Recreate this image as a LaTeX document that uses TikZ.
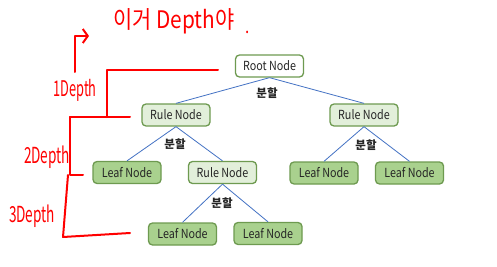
\documentclass[tikz,border=0pt]{standalone}
\usepackage{fontspec}
\usetikzlibrary{arrows.meta}
\newfontfamily\kfont{Noto Sans CJK KR}
\newfontfamily\nfont[FakeStretch=0.86]{Noto Sans CJK KR}
\newfontfamily\hfont[FakeStretch=0.8]{Noto Sans CJK KR}
\definecolor{edgegreen}{HTML}{6E9A50}
\definecolor{rulefill}{HTML}{E2EFDA}
\definecolor{leaffill}{HTML}{A9D18E}
\definecolor{splitblue}{HTML}{4472C4}
\definecolor{pen}{HTML}{FF0000}
\tikzset{
  treebox/.style={draw=edgegreen, line width=1.3pt, rounded corners=4pt,
    minimum width=68pt, minimum height=22pt, inner sep=0pt,
    font=\nfont\fontsize{12.5}{13}\selectfont, text=black!85},
  rootbox/.style={treebox, fill=white},
  rulebox/.style={treebox, fill=rulefill},
  leafbox/.style={treebox, fill=leaffill},
  split/.style={draw=splitblue, line width=0.8pt},
  splitlabel/.style={font=\kfont\bfseries\fontsize{11.5}{12}\selectfont, text=black!85, inner sep=0pt},
  redpen/.style={draw=pen, line width=2pt, line join=round, line cap=round},
  note/.style={text=pen, inner sep=0pt, font=\hfont\fontsize{#1}{#1}\selectfont},
}
\newcommand{\tallnote}[3]{\scalebox{#1}[#2]{#3}}
\begin{document}
\begin{tikzpicture}[x=1pt,y=-1pt]
\useasboundingbox[fill=white] (0,0) rectangle (497,267);

% tree nodes
\node[rootbox] (root) at (269.5,66) {Root Node};
\node[rulebox] (ruleL) at (176,115) {Rule Node};
\node[rulebox] (ruleR) at (364,115) {Rule Node};
\node[leafbox] (leafA) at (127,172.5) {Leaf Node};
\node[rulebox] (ruleM) at (222.5,172.5) {Rule Node};
\node[leafbox] (leafB) at (324,173) {Leaf Node};
\node[leafbox] (leafC) at (409.5,173) {Leaf Node};
\node[leafbox] (leafD) at (182.5,234) {Leaf Node};
\node[leafbox] (leafE) at (268,233.5) {Leaf Node};

% splits
\draw[split] (root.south) -- (ruleL.north);
\draw[split] (root.south) -- (ruleR.north);
\draw[split] (ruleL.south) -- (leafA.north);
\draw[split] (ruleL.south) -- (ruleM.north);
\draw[split] (ruleR.south) -- (leafB.north);
\draw[split] (ruleR.south) -- (leafC.north);
\draw[split] (ruleM.south) -- (leafD.north);
\draw[split] (ruleM.south) -- (leafE.north);

\node[splitlabel] (s1) at (267,93) {분할};
\node[splitlabel] (s2) at (175,144) {분할};
\node[splitlabel] (s3) at (366,145) {분할};
\node[splitlabel] (s4) at (222,203) {분할};

% hand-drawn depth notes
\node[note=21] (title) at (174,21) {\tallnote{1.24}{1.15}{이거 Depth야}};
\node[note=19] (dot) at (248,32) {.};
\coordinate (arrowStart) at (75,72);
\coordinate (arrowBend) at (75,36);
\coordinate (arrowEnd) at (89,36);
\draw[redpen, -{Straight Barb[length=5pt,width=14pt]}] (arrowStart) -- (arrowBend) -- (arrowEnd);

\node[note=16] (d1) at (75,90) {\tallnote{1}{1.35}{1Depth}};
\node[note=17] (d2) at (47,157) {\tallnote{1}{1.3}{2Depth}};
\node[note=17] (d3) at (32,216) {\tallnote{1}{1.3}{3Depth}};

\coordinate (b1a) at (218,70);
\coordinate (b1b) at (107,70);
\coordinate (b1c) at (107,117);
\coordinate (b2a) at (70,117);
\coordinate (b2b) at (130,117);
\coordinate (b3a) at (70,175);
\coordinate (b3b) at (83,175);
\coordinate (b4a) at (68,175);
\coordinate (b4b) at (63,237);
\coordinate (b4c) at (130,233);
\draw[redpen] (b1a) -- (b1b) -- (b1c);
\draw[redpen] (b2a) -- (b2b);
\draw[redpen] (b2a) -- (b3a) -- (b3b);
\draw[redpen] (b4a) -- (b4b) -- (b4c);
\end{tikzpicture}
\end{document}
